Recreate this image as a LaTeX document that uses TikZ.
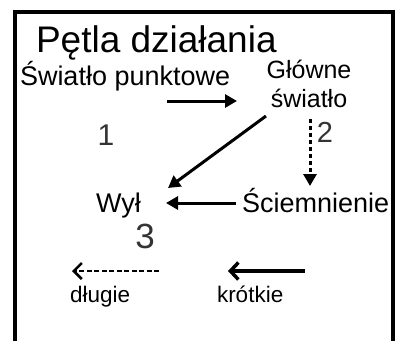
\documentclass[tikz,border=0pt]{standalone}
\usepackage{fontspec}
\setmainfont{Liberation Sans}
\usetikzlibrary{arrows.meta}
\begin{document}
\begin{tikzpicture}[x=1pt,y=-1pt,
  lbl/.style={inner sep=0pt,outer sep=0pt},
  big/.style={lbl,font=\fontsize{37}{40}\selectfont},
  mid/.style={lbl,font=\fontsize{27}{30}\selectfont},
  small/.style={lbl,font=\fontsize{22.5}{25}\selectfont},
  num/.style={lbl,text=black!80},
  solidarr/.style={line width=3pt,-{Triangle[length=12pt,width=13pt]}},
  dasharr/.style={line width=3pt,dash pattern=on 4pt off 3pt,-{Triangle[length=12pt,width=13pt]}},
  barbarr/.style={line width=3.5pt,-{Straight Barb[length=8pt,width=17pt]}},
  barbdash/.style={line width=2.5pt,dash pattern=on 5pt off 2.5pt,-{Straight Barb[length=8pt,width=16pt]}},
  frame/.style={line width=4pt}]
\useasboundingbox (0,0) rectangle (396,340);
\clip (0,0) rectangle (396,340);
\fill[white] (0,0) rectangle (396,340);
% frame
\draw[frame] (15,360) -- (15,12) -- (393,12) -- (393,360);
% texts
\node[big,anchor=base west] (title) at (36,52) {Pętla działania};
\node[mid,anchor=base west] (punkt) at (20,85) {Światło punktowe};
\node[lbl,font=\fontsize{25}{29}\selectfont,align=center,anchor=base] (glowne) at (309,107) {Główne\\światło};
\node[mid,anchor=base west] (sciem) at (242,212) {Ściemnienie};
\node[mid,anchor=base west] (wyl) at (96,212) {Wył};
\node[num,font=\fontsize{30}{32}\selectfont,anchor=base] (n1) at (106,145) {1};
\node[num,font=\fontsize{29}{32}\selectfont,anchor=base] (n2) at (325,142) {2};
\node[num,font=\fontsize{35}{38}\selectfont,anchor=base] (n3) at (145,248) {3};
\node[small,anchor=base west] (dlugie) at (70,302) {długie};
\node[small,anchor=base west] (krotkie) at (217,302) {krótkie};
% arrow endpoints
\coordinate (a1s) at (167,101);
\coordinate (a1e) at (237,101);
\coordinate (a2s) at (266,116);
\coordinate (a2e) at (168,188);
\coordinate (a3s) at (310,119);
\coordinate (a3e) at (310,186);
\coordinate (a4s) at (236,203);
\coordinate (a4e) at (166,203);
\coordinate (a5s) at (159,271);
\coordinate (a5e) at (72,271);
\coordinate (a6s) at (305,271);
\coordinate (a6e) at (228,271);
% arrows
\draw[solidarr] (a1s) -- (a1e);
\draw[solidarr] (a2s) -- (a2e);
\draw[dasharr] (a3s) -- (a3e);
\draw[solidarr] (a4s) -- (a4e);
\draw[barbdash] (a5s) -- (a5e);
\draw[barbarr] (a6s) -- (a6e);
\end{tikzpicture}
\end{document}
